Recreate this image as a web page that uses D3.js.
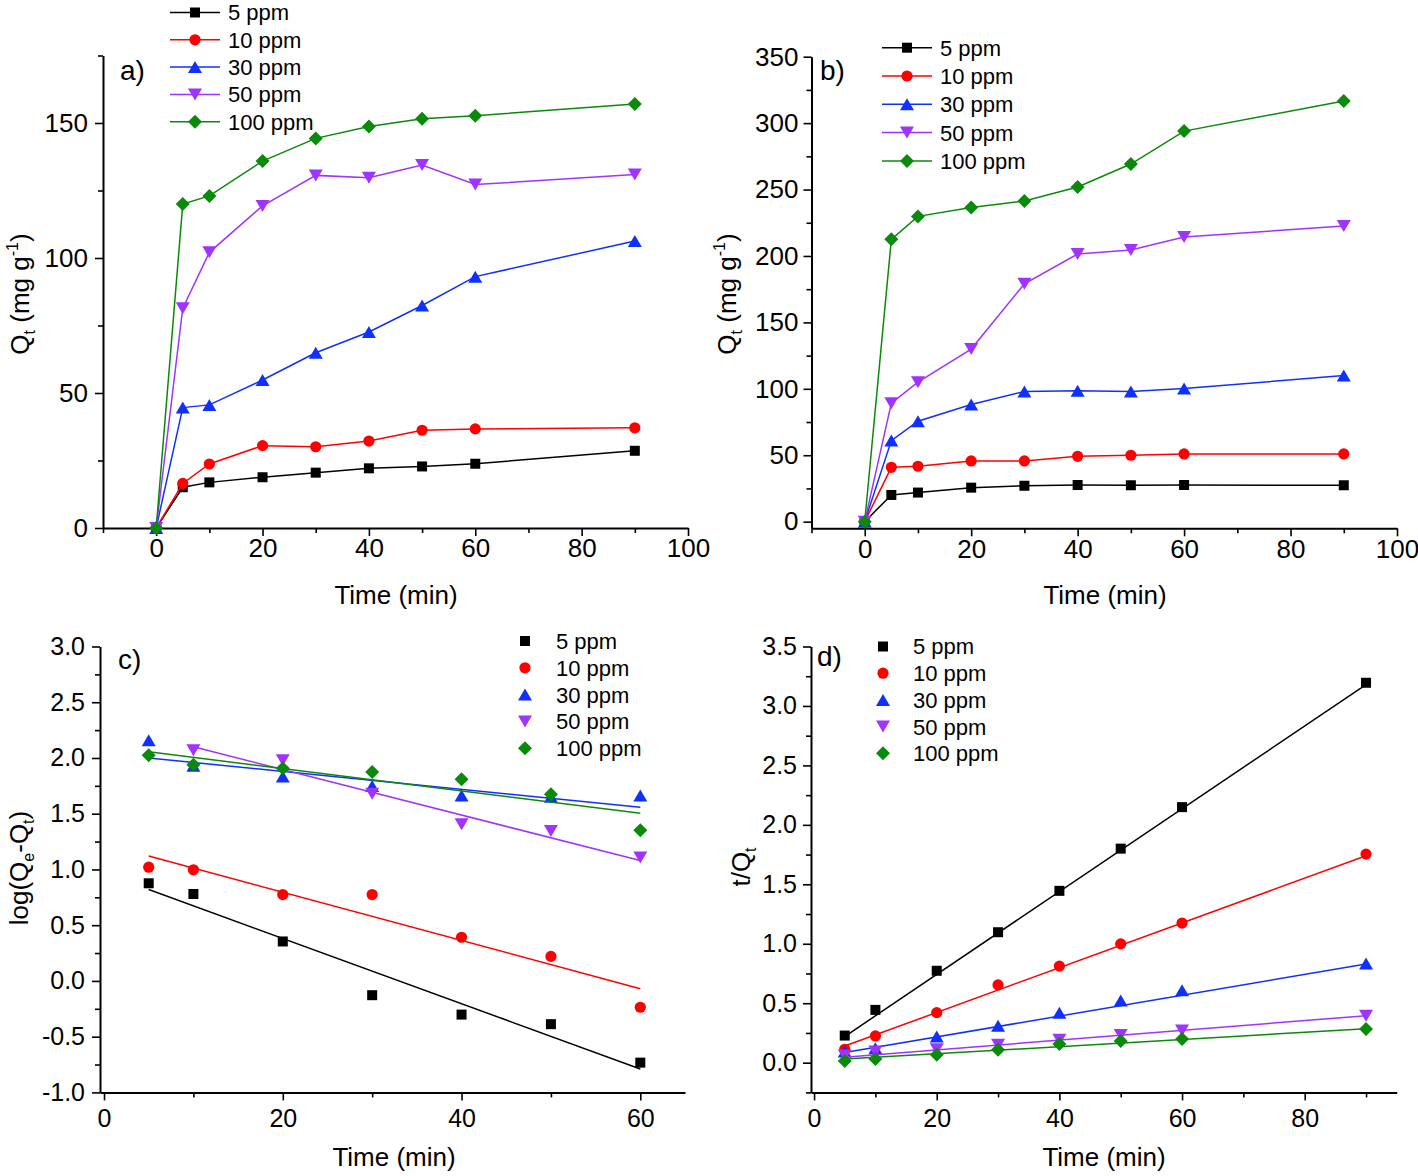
<!DOCTYPE html>
<html><head><meta charset="utf-8">
<script src="https://cdn.jsdelivr.net/npm/d3@7"></script>
<style>
body{margin:0;background:#fff}
svg{display:block;font-family:"Liberation Sans",Arial,sans-serif}
</style>
</head><body>
<svg id="chart" width="1418" height="1176"></svg>
<script>
// ---------- data ----------
const seriesNames = ["5 ppm", "10 ppm", "30 ppm", "50 ppm", "100 ppm"];
const seriesColors = ["#000000", "#ff0000", "#1030ff", "#a033ff", "#0a8a0a"];
const seriesShapes = ["square", "circle", "triangleUp", "triangleDown", "diamond"];

// panel a: Qt vs time
const timeAB = [0, 5, 10, 20, 30, 40, 50, 60, 90];
const qtA_5   = [0, 15.1, 16.9, 18.8, 20.5, 22.1, 22.8, 23.8, 28.6];
const qtA_10  = [0, 16.5, 23.7, 30.5, 30.1, 32.2, 36.2, 36.7, 37.1];
const qtA_30  = [0, 44.6, 45.6, 54.8, 64.9, 72.6, 82.4, 93.1, 106.3];
const qtA_50  = [0, 81.4, 102.1, 119.3, 130.6, 129.7, 134.4, 127.2, 130.9];
const qtA_100 = [0, 120.0, 123.0, 135.9, 144.3, 148.7, 151.6, 152.7, 157.0];

// panel b: Qt vs time
const qtB_5   = [0, 20.1, 21.9, 25.6, 27.1, 27.6, 27.4, 27.6, 27.4];
const qtB_10  = [0, 40.9, 41.7, 45.7, 45.7, 49.2, 50.0, 51.0, 51.0];
const qtB_30  = [0, 61.0, 75.6, 88.2, 98.0, 98.5, 98.0, 100.2, 110.0];
const qtB_50  = [0, 89.2, 105.0, 129.9, 179.1, 201.5, 204.5, 214.3, 222.6];
const qtB_100 = [0, 212.5, 229.8, 236.4, 241.4, 251.9, 269.2, 294.0, 316.6];

// panel c: pseudo-first-order, log(Qe-Qt)
const timeC = [5, 10, 20, 30, 40, 50, 60];
const logC_5   = [0.876, 0.78, 0.354, -0.128, -0.302, -0.388, -0.733];
const logC_10  = [1.02, 0.997, 0.775, 0.775, 0.392, 0.22, -0.236];
const logC_30  = [2.16, 1.93, 1.834, 1.748, 1.663, 1.653, 1.663];
const logC_50  = [null, 2.07, 1.98, 1.678, 1.406, 1.345, 1.108];
const logC_100 = [2.024, 1.94, 1.907, 1.875, 1.81, 1.675, 1.352];
// fitted lines (start time, start value, end time, end value)
const fitC_5   = [5, 0.82, 60, -0.79];
const fitC_10  = [5, 1.12, 60, -0.07];
const fitC_30  = [5, 2.00, 60, 1.558];
const fitC_50  = [10, 2.10, 60, 1.08];
const fitC_100 = [5, 2.055, 60, 1.504];

// panel d: pseudo-second-order, t/Qt
const timeD = [5, 10, 20, 30, 40, 50, 60, 90];
const tqD_5   = [0.228, 0.444, 0.773, 1.097, 1.445, 1.80, 2.149, 3.195];
const tqD_10  = [0.113, 0.225, 0.421, 0.654, 0.812, 0.999, 1.174, 1.754];
const tqD_30  = [0.093, 0.122, 0.22, 0.31, 0.42, 0.523, 0.61, 0.833];
const tqD_50  = [0.06, 0.093, 0.113, 0.15, 0.193, 0.232, 0.271, 0.395];
const tqD_100 = [0.015, 0.03, 0.066, 0.108, 0.158, 0.182, 0.20, 0.283];
const fitD_5   = [5, 0.22, 90, 3.18];
const fitD_10  = [5, 0.14, 90, 1.74];
const fitD_30  = [5, 0.085, 90, 0.83];
const fitD_50  = [5, 0.046, 90, 0.395];
const fitD_100 = [5, 0.03, 90, 0.285];

// tick values
const ticksX_AB = [0, 20, 40, 60, 80, 100];
const minorX_AB = [-10, 10, 30, 50, 70, 90];
const ticksY_A = [0, 50, 100, 150];
const minorY_A = [25, 75, 125, 175];
const ticksY_B = [0, 50, 100, 150, 200, 250, 300, 350];
const minorY_B = [25, 75, 125, 175, 225, 275, 325];
const ticksX_C = [0, 20, 40, 60];
const minorX_C = [10, 30, 50];
const ticksY_C = [-1.0, -0.5, 0.0, 0.5, 1.0, 1.5, 2.0, 2.5, 3.0];
const minorY_C = [-0.75, -0.25, 0.25, 0.75, 1.25, 1.75, 2.25, 2.75];
const ticksX_D = [0, 20, 40, 60, 80];
const minorX_D = [10, 30, 50, 70, 90];
const ticksY_D = [0.0, 0.5, 1.0, 1.5, 2.0, 2.5, 3.0, 3.5];
const minorY_D = [-0.25, 0.25, 0.75, 1.25, 1.75, 2.25, 2.75, 3.25];

// ---------- drawing ----------
const svg = d3.select("#chart");
const FONT = '"Liberation Sans", Arial, sans-serif';
const fmt1 = v => d3.format(".1f")(v).replace("\u2212", "-");

function shapePath(type, cx, cy) {
  const s = 5, r = 5.6, tw = 7, th = 6, dd = 7;
  switch (type) {
    case "square": return `M${cx-s},${cy-s}h${2*s}v${2*s}h${-2*s}Z`;
    case "circle": return `M${cx-r},${cy}a${r},${r} 0 1,0 ${2*r},0a${r},${r} 0 1,0 ${-2*r},0Z`;
    case "triangleUp": return `M${cx},${cy-th}L${cx+tw},${cy+th}L${cx-tw},${cy+th}Z`;
    case "triangleDown": return `M${cx},${cy+th}L${cx+tw},${cy-th}L${cx-tw},${cy-th}Z`;
    case "diamond": return `M${cx},${cy-dd}L${cx+dd},${cy}L${cx},${cy+dd}L${cx-dd},${cy}Z`;
  }
}

function drawAxes(g, x, y, cfg) {
  const yBase = y(cfg.yDomain[0]);
  const xBase = x(cfg.xDomain[0]);
  g.append("g").attr("transform", `translate(0,${yBase})`)
    .call(d3.axisBottom(x).tickValues(cfg.xMajor).tickSize(8).tickSizeOuter(0)
      .tickPadding(cfg.xPad).tickFormat(d3.format("d")));
  g.append("g").attr("transform", `translate(0,${yBase})`)
    .call(d3.axisBottom(x).tickValues(cfg.xMinor).tickSize(5).tickSizeOuter(0).tickFormat(""))
    .select(".domain").remove();
  g.append("g").attr("transform", `translate(${xBase},0)`)
    .call(d3.axisLeft(y).tickValues(cfg.yMajor).tickSize(8).tickSizeOuter(0)
      .tickPadding(cfg.yPad).tickFormat(cfg.yFmt));
  g.append("g").attr("transform", `translate(${xBase},0)`)
    .call(d3.axisLeft(y).tickValues(cfg.yMinor).tickSize(5).tickSizeOuter(0).tickFormat(""))
    .select(".domain").remove();
  g.selectAll(".domain").attr("stroke", "#000").attr("stroke-width", 2);
  g.selectAll(".tick line").attr("stroke", "#000").attr("stroke-width", 1.6);
  g.selectAll(".tick text").attr("fill", "#000")
    .style("font-family", FONT).style("font-size", cfg.tickFont + "px");
}

function drawPanel(cfg) {
  const g = svg.append("g");
  const x = d3.scaleLinear().domain(cfg.xDomain).range(cfg.xRange);
  const y = d3.scaleLinear().domain(cfg.yDomain).range(cfg.yRange);
  drawAxes(g, x, y, cfg);

  const line = d3.line().defined(d => d[1] !== null).x(d => x(d[0])).y(d => y(d[1]));
  cfg.series.forEach((vals, i) => {
    const pts = cfg.times.map((t, k) => [t, vals[k]]);
    if (cfg.fits) {
      const f = cfg.fits[i];
      g.append("path").attr("d", line([[f[0], f[1]], [f[2], f[3]]]))
        .attr("fill", "none").attr("stroke", seriesColors[i]).attr("stroke-width", 1.5);
    } else {
      g.append("path").attr("d", line(pts))
        .attr("fill", "none").attr("stroke", seriesColors[i]).attr("stroke-width", 1.5);
    }
    g.selectAll(null).data(pts.filter(p => p[1] !== null)).enter().append("path")
      .attr("d", p => shapePath(seriesShapes[i], x(p[0]), y(p[1])))
      .attr("fill", seriesColors[i]);
  });

  // panel letter
  g.append("text").attr("x", cfg.letterPos[0]).attr("y", cfg.letterPos[1])
    .style("font-size", "28px").text(cfg.letter);

  // legend
  const L = cfg.legend;
  seriesNames.forEach((name, i) => {
    const cy = L.y0 + i * L.dy;
    if (L.lines) {
      g.append("line").attr("x1", L.lx1).attr("x2", L.lx2).attr("y1", cy).attr("y2", cy)
        .attr("stroke", seriesColors[i]).attr("stroke-width", 1.5);
    }
    g.append("path").attr("d", shapePath(seriesShapes[i], L.mx, cy)).attr("fill", seriesColors[i]);
    g.append("text").attr("x", L.tx).attr("y", cy).attr("dy", "0.36em")
      .style("font-size", "22px").text(name);
  });

  // x title
  g.append("text").attr("x", cfg.xTitle[0]).attr("y", cfg.xTitle[1])
    .attr("text-anchor", "middle").style("font-size", "26px").text("Time (min)");

  // y title
  const yt = g.append("text")
    .attr("transform", `translate(${cfg.yTitle[0]},${cfg.yTitle[1]}) rotate(-90)`)
    .attr("text-anchor", "middle").style("font-size", "26px");
  cfg.yTitleParts.forEach(p => {
    const ts = yt.append("tspan").text(p.t);
    if (p.sub) ts.style("font-size", "16px").attr("dy", 6);
    if (p.sup) ts.style("font-size", "16px").attr("dy", -11);
    if (p.reset) ts.attr("dy", p.reset);
  });
}

const qtTitle = [
  {t: "Q"}, {t: "t", sub: true}, {t: " (mg g", reset: -6}, {t: "-1", sup: true}, {t: ")", reset: 11}
];

drawPanel({
  xDomain: [-10, 100], xRange: [103, 688], yDomain: [0, 175], yRange: [528, 55.5],
  xMajor: ticksX_AB, xMinor: minorX_AB, yMajor: ticksY_A, yMinor: minorY_A,
  yFmt: d3.format("d"), xPad: 3, yPad: 7, tickFont: 26,
  times: timeAB, series: [qtA_5, qtA_10, qtA_30, qtA_50, qtA_100],
  letter: "a)", letterPos: [120, 80],
  legend: {lines: true, lx1: 170, lx2: 220, mx: 195, tx: 228, y0: 12.5, dy: 27.3},
  xTitle: [396, 604], yTitle: [29, 294], yTitleParts: qtTitle
});

drawPanel({
  xDomain: [-10, 100], xRange: [811.5, 1397], yDomain: [-5, 350], yRange: [528.3, 56.7],
  xMajor: ticksX_AB, xMinor: minorX_AB, yMajor: ticksY_B, yMinor: minorY_B,
  yFmt: d3.format("d"), xPad: 3, yPad: 5, tickFont: 26,
  times: timeAB, series: [qtB_5, qtB_10, qtB_30, qtB_50, qtB_100],
  letter: "b)", letterPos: [820, 80],
  legend: {lines: true, lx1: 882, lx2: 932, mx: 907, tx: 940, y0: 47.7, dy: 28.3},
  xTitle: [1105, 604], yTitle: [736, 294], yTitleParts: qtTitle
});

drawPanel({
  xDomain: [-0.45, 65], xRange: [100, 685], yDomain: [-1, 3], yRange: [1092.4, 646.5],
  xMajor: ticksX_C, xMinor: minorX_C, yMajor: ticksY_C, yMinor: minorY_C,
  yFmt: fmt1, xPad: 9, yPad: 7, tickFont: 25,
  times: timeC, series: [logC_5, logC_10, logC_30, logC_50, logC_100],
  fits: [fitC_5, fitC_10, fitC_30, fitC_50, fitC_100],
  letter: "c)", letterPos: [118, 669],
  legend: {lines: false, mx: 525, tx: 556, y0: 641, dy: 26.8},
  xTitle: [394, 1166], yTitle: [28, 868],
  yTitleParts: [{t: "log(Q"}, {t: "e", sub: true}, {t: "-Q", reset: -6}, {t: "t", sub: true}, {t: ")", reset: -6}]
});

drawPanel({
  xDomain: [-0.5, 95], xRange: [811, 1396.7], yDomain: [-0.25, 3.5], yRange: [1092.4, 646.5],
  xMajor: ticksX_D, xMinor: minorX_D, yMajor: ticksY_D, yMinor: minorY_D,
  yFmt: fmt1, xPad: 9, yPad: 6, tickFont: 25,
  times: timeD, series: [tqD_5, tqD_10, tqD_30, tqD_50, tqD_100],
  fits: [fitD_5, fitD_10, fitD_30, fitD_50, fitD_100],
  letter: "d)", letterPos: [817, 666],
  legend: {lines: false, mx: 883, tx: 913, y0: 646.5, dy: 26.7},
  xTitle: [1104, 1166], yTitle: [750, 867],
  yTitleParts: [{t: "t/Q"}, {t: "t", sub: true}]
});

svg.selectAll("text").attr("fill", "#000").style("font-family", FONT);
</script>
</body></html>
